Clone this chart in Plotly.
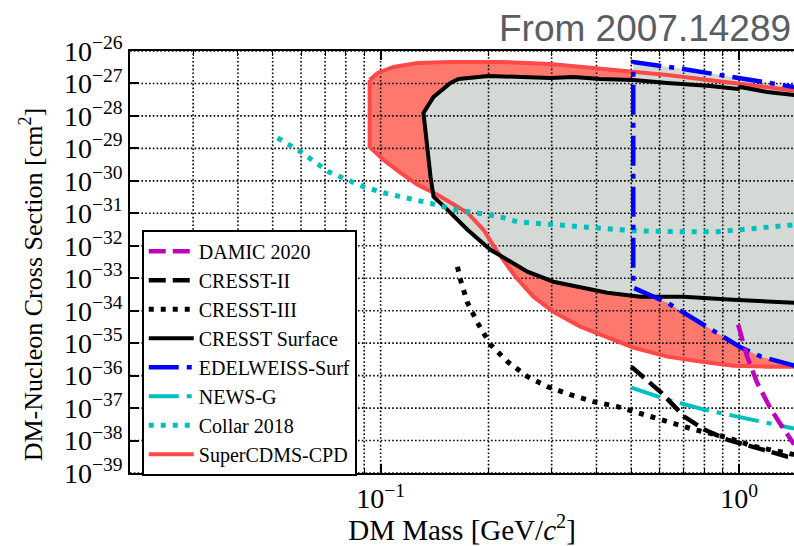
import math
import plotly.graph_objects as go

# ---------------- tick labels ----------------
y_tick_vals = [10.0 ** e for e in range(-26, -40, -1)]
y_tick_text = ["10<sup>−%d</sup>" % (-e) for e in range(-26, -40, -1)]
x_tick_vals = [0.1, 1.0]
x_tick_text = ["10<sup>−1</sup>", "10<sup>0</sup>"]
x_minor_vals = [0.03, 0.04, 0.05, 0.06, 0.07, 0.08, 0.09,
                0.2, 0.3, 0.4, 0.5, 0.6, 0.7, 0.8, 0.9,
                2, 3, 4, 5, 6, 7, 8, 9]

# ---------------- data (GeV, cm^2) ----------------
# SuperCDMS-CPD excluded region
cdms_upper_x = [0.0932, 0.0981, 0.1087, 0.1268, 0.1567, 0.2159, 0.2975, 0.4101, 0.6302, 0.9622, 1.423, 1.6]
cdms_upper_y = [1.28e-27, 2.10e-27, 3.22e-27, 4.28e-27, 4.59e-27, 4.59e-27, 3.98e-27, 2.79e-27,
                1.83e-27, 1.04e-27, 6.31e-28, 5.10e-28]
cdms_lower_x = [0.0932, 0.1019, 0.1137, 0.1268, 0.1441, 0.1747, 0.1936, 0.2118, 0.2377, 0.2668,
                0.3033, 0.3607, 0.4289, 0.5066, 0.6302, 0.7785, 0.9622, 1.197, 1.423, 1.6]
cdms_lower_y = [1.11e-29, 4.43e-30, 1.76e-30, 7.53e-31, 3.71e-31, 1.04e-31, 3.11e-32, 6.54e-33,
                1.11e-33, 2.70e-34, 9.31e-35, 3.22e-35, 1.48e-35, 7.27e-36, 3.84e-36, 2.70e-36,
                2.03e-36, 1.89e-36, 1.89e-36, 1.76e-36]

# CRESST Surface excluded contour
cresst_surf_x = [1.6, 1.423, 1.197, 1.0064, 0.9936, 0.8303, 0.6302, 0.5066, 0.4101, 0.3448, 0.2975,
                 0.1999, 0.1649, 0.1567, 0.1405, 0.1317, 0.1378, 0.1405, 0.1537, 0.1747, 0.2025,
                 0.2258, 0.2567, 0.3033, 0.3607, 0.4289, 0.5299, 0.6982, 0.9622, 1.423, 1.6]
cresst_surf_y = [3.58e-28, 4.43e-28, 5.47e-28, 7.80e-28, 6.78e-28, 8.38e-28, 1.04e-27, 1.28e-27,
                 1.38e-27, 1.585e-27, 1.48e-27, 1.70e-27, 1.38e-27, 1.04e-27, 3.84e-28, 1.24e-28,
                 1.33e-30, 3.22e-31, 1.28e-31, 3.11e-32, 7.53e-33, 3.71e-33, 1.585e-33, 7.80e-34,
                 5.10e-34, 3.58e-34, 2.70e-34, 2.70e-34, 2.18e-34, 1.76e-34, 1.64e-34]

# EDELWEISS-Surf excluded contour
edel_x = [1.6, 1.423, 1.0064, 0.6982, 0.5066, 0.5066, 0.6302, 0.7785, 0.8355, 1.013, 1.152, 1.309, 1.423, 1.6]
edel_y = [6.31e-28, 7.80e-28, 1.48e-27, 2.79e-27, 4.59e-27, 5.10e-34, 1.76e-34, 4.28e-35, 2.60e-35,
          7.27e-36, 3.84e-36, 2.51e-36, 2.03e-36, 1.64e-36]

# Collar 2018
collar_x = [0.0516, 0.0599, 0.0716, 0.0825, 0.0897, 0.1019, 0.1197, 0.1396, 0.1567, 0.1875, 0.2159,
            0.2407, 0.3172, 0.4101, 0.5066, 0.6982, 0.8684, 1.073, 1.423]
collar_y = [2.10e-29, 7.80e-30, 1.89e-30, 9.31e-31, 6.54e-31, 4.28e-31, 3.00e-31, 1.96e-31, 1.38e-31,
            9.66e-32, 7.80e-32, 5.47e-32, 4.43e-32, 3.58e-32, 2.90e-32, 2.70e-32, 2.70e-32, 3.33e-32, 4.43e-32]

# CRESST-III
cresst3_x = [0.1638, 0.1670, 0.1747, 0.1863, 0.2025, 0.2258, 0.2567, 0.2919, 0.3382, 0.3920, 0.4572,
             0.4876, 0.6064, 0.7493, 0.9260, 1.101, 1.423]
cresst3_y = [2.26e-33, 9.0e-34, 1.76e-34, 4.28e-35, 9.0e-36, 2.70e-36, 9.31e-37, 4.59e-37, 2.60e-37,
             1.585e-37, 1.11e-37, 9.0e-38, 4.43e-38, 2.18e-38, 1.24e-38, 6.54e-39, 3.71e-39]

# CRESST-II
cresst2_x = [0.5001, 0.6064, 0.7028, 0.7990, 0.9260, 1.101, 1.360, 1.423]
cresst2_y = [1.89e-36, 3.00e-37, 5.47e-38, 2.18e-38, 1.07e-38, 6.09e-39, 3.22e-39, 3.0e-39]

# NEWS-G
newsg_x = [0.5001, 0.6302, 0.7990, 1.033, 1.423]
newsg_y = [4.28e-37, 1.83e-37, 9.0e-38, 5.10e-38, 2.34e-38]

# DAMIC 2020
damic_x = [0.9936, 1.053, 1.122, 1.228, 1.335, 1.423]
damic_y = [3.71e-35, 3.84e-36, 6.09e-37, 9.0e-38, 2.18e-38, 7.53e-39]

# ---------------- styles ----------------
SERIF = "Liberation Serif"
RED_LINE = "rgb(255,72,72)"
RED_FILL = "rgb(255,120,110)"
GRAY_FILL = "rgb(213,217,213)"
CYAN = "#00bfbf"
MAGENTA = "#bf00bf"
BLUE = "#0000ff"

X_MIN, X_MAX_LOG = 0.02, 0.153
Y_MIN, Y_MAX = 1e-39, 1e-26

fig = go.Figure()

# fills (patches)
cdms_poly_x = cdms_upper_x + cdms_lower_x[::-1] + [cdms_upper_x[0]]
cdms_poly_y = cdms_upper_y + cdms_lower_y[::-1] + [cdms_upper_y[0]]
fig.add_trace(go.Scatter(x=cdms_poly_x, y=cdms_poly_y, mode="lines", fill="toself",
                         fillcolor=RED_FILL, line=dict(width=0), showlegend=False, hoverinfo="skip"))
fig.add_trace(go.Scatter(x=cresst_surf_x, y=cresst_surf_y, mode="lines", fill="toself",
                         fillcolor=GRAY_FILL, line=dict(width=0), showlegend=False, hoverinfo="skip"))
fig.add_trace(go.Scatter(x=edel_x, y=edel_y, mode="lines", fill="toself",
                         fillcolor=GRAY_FILL, line=dict(width=0), showlegend=False, hoverinfo="skip"))

# grid (above patches, below lines, as in matplotlib)
gx, gy = [], []
for v in x_minor_vals + x_tick_vals:
    gx += [v, v, None]
    gy += [Y_MIN, Y_MAX, None]
for v in y_tick_vals:
    gx += [X_MIN, 2.0, None]
    gy += [v, v, None]
fig.add_trace(go.Scatter(x=gx, y=gy, mode="lines", line=dict(color="black", width=1.6, dash="1.6px,2.2px"),
                         showlegend=False, hoverinfo="skip"))

# lines
fig.add_trace(go.Scatter(x=cdms_poly_x, y=cdms_poly_y, mode="lines", name="SuperCDMS-CPD",
                         line=dict(color=RED_LINE, width=4), legendrank=8))
fig.add_trace(go.Scatter(x=cresst_surf_x, y=cresst_surf_y, mode="lines", name="CRESST Surface",
                         line=dict(color="black", width=4), legendrank=4))
fig.add_trace(go.Scatter(x=collar_x, y=collar_y, mode="lines", name="Collar 2018",
                         line=dict(color=CYAN, width=5, dash="5px,7px"), legendrank=7))
fig.add_trace(go.Scatter(x=edel_x, y=edel_y, mode="lines", name="EDELWEISS-Surf",
                         line=dict(color=BLUE, width=4.5, dash="30px,8px,5px,8px"), legendrank=5))
fig.add_trace(go.Scatter(x=newsg_x, y=newsg_y, mode="lines", name="NEWS-G",
                         line=dict(color=CYAN, width=4, dash="30px,8px,5px,8px"), legendrank=6))
fig.add_trace(go.Scatter(x=cresst3_x, y=cresst3_y, mode="lines", name="CRESST-III",
                         line=dict(color="black", width=5, dash="5px,7px"), legendrank=3))
fig.add_trace(go.Scatter(x=cresst2_x, y=cresst2_y, mode="lines", name="CRESST-II",
                         line=dict(color="black", width=4.5, dash="17px,7px"), legendrank=2))
fig.add_trace(go.Scatter(x=damic_x, y=damic_y, mode="lines", name="DAMIC 2020",
                         line=dict(color=MAGENTA, width=4.5, dash="17px,7px"), legendrank=1))

fig.update_layout(
    width=794, height=546,
    margin=dict(l=130, r=0, t=51, b=73),
    paper_bgcolor="white", plot_bgcolor="white",
    font=dict(family=SERIF, color="black"),
    showlegend=True,
    legend=dict(x=0.018, y=0.576, xanchor="left", yanchor="top",
                bgcolor="white", bordercolor="black", borderwidth=1.8,
                font=dict(family=SERIF, size=20, color="black"),
                itemwidth=45, tracegroupgap=0),
    annotations=[
        dict(text="From 2007.14289", xref="paper", yref="paper", x=1, y=1,
             xanchor="right", yanchor="bottom", yshift=0, xshift=-1, showarrow=False,
             font=dict(family="Liberation Sans", size=37, color="rgb(88,94,100)")),
        dict(text="DM-Nucleon Cross Section [cm<sup>2</sup>]", xref="paper", yref="paper",
             x=0, y=0.447, xanchor="center", yanchor="middle", xshift=-99, textangle=-90,
             showarrow=False, font=dict(family=SERIF, size=26, color="black")),
    ],
)

fig.update_xaxes(
    type="log", range=[math.log10(X_MIN), X_MAX_LOG],
    showline=True, linecolor="black", linewidth=1.5, mirror="allticks",
    ticks="inside", ticklen=9, tickwidth=1.5, tickcolor="black",
    tickmode="array", tickvals=x_tick_vals, ticktext=x_tick_text,
    tickfont=dict(family=SERIF, size=28, color="black"),
    showgrid=False, zeroline=False,
    minor=dict(tickmode="array", tickvals=x_minor_vals, ticks="inside", ticklen=5,
               tickwidth=1.2, tickcolor="black", showgrid=False),
    title=dict(text="DM Mass [GeV/<i>c</i><sup>2</sup>]", font=dict(family=SERIF, size=29), standoff=6),
)
fig.update_yaxes(
    type="log", range=[-39, -26],
    showline=True, linecolor="black", linewidth=1.5, mirror=False,
    ticks="inside", ticklen=9, tickwidth=1.5, tickcolor="black",
    tickmode="array", tickvals=y_tick_vals, ticktext=y_tick_text,
    tickfont=dict(family=SERIF, size=28, color="black"),
    showgrid=False, zeroline=False,
)

fig.write_html("out.html")
